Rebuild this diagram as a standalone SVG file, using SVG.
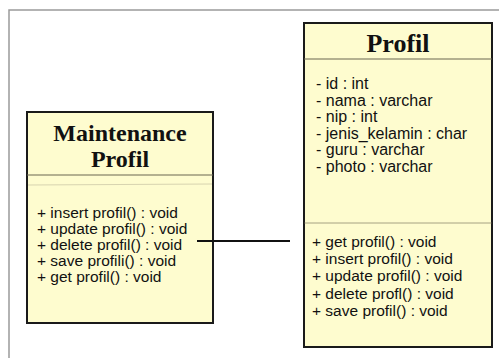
<svg xmlns="http://www.w3.org/2000/svg" width="499" height="358" viewBox="0 0 499 358">
<style>
.box{fill:#fefccf;stroke:#1a1a1a;stroke-width:2}
.div{stroke:#6b6650;stroke-width:1}
.faint{stroke:#d8d4b0;stroke-width:1}
.title{font-family:"Liberation Serif",serif;font-weight:bold;fill:#111;text-anchor:middle}
.t{font-family:"Liberation Sans",Arial,sans-serif;font-size:15.5px;fill:#111}
.a{font-family:"Liberation Sans",Arial,sans-serif;font-size:16px;fill:#111}
.frame{stroke:#9a9a9a;stroke-width:1.5;fill:none}
.conn{stroke:#111;stroke-width:2;fill:none}
</style>
<rect width="499" height="358" fill="#ffffff"/>
<path class="frame" d="M9,358 V10 H499"/>
<g id="maintenance-profil">
<rect class="box" x="27" y="112" width="186" height="211"/>
<text class="title" x="120" y="141" font-size="24">Maintenance</text>
<text class="title" x="120" y="167" font-size="24">Profil</text>
<line class="div" x1="27" y1="175" x2="213" y2="175"/>
<line class="faint" x1="28" y1="185" x2="212" y2="184"/>
<text class="t" x="37" y="218">+ insert profil() : void</text>
<text class="t" x="37" y="234">+ update profil() : void</text>
<text class="t" x="37" y="250">+ delete profil() : void</text>
<text class="t" x="37" y="266">+ save profili() : void</text>
<text class="t" x="37" y="282">+ get profil() : void</text>
</g>
<g id="profil">
<rect class="box" x="304" y="23" width="188" height="324"/>
<text class="title" x="398" y="52" font-size="26">Profil</text>
<line class="div" x1="304" y1="59" x2="492" y2="59"/>
<text class="a" x="316" y="89">- id : int</text>
<text class="a" x="316" y="105.5">- nama : varchar</text>
<text class="a" x="316" y="122">- nip : int</text>
<text class="a" x="316" y="138.5">- jenis_kelamin : char</text>
<text class="a" x="316" y="155">- guru : varchar</text>
<text class="a" x="316" y="171.5">- photo : varchar</text>
<line class="div" x1="304" y1="223" x2="492" y2="223" stroke-opacity="0.6"/>
<text class="t" x="312" y="247">+ get profil() : void</text>
<text class="t" x="312" y="264">+ insert profil() : void</text>
<text class="t" x="312" y="281">+ update profil() : void</text>
<text class="t" x="312" y="299">+ delete profl() : void</text>
<text class="t" x="312" y="316">+ save profil() : void</text>
</g>
<g id="connectors">
<line class="conn" x1="197" y1="241" x2="290" y2="241"/>
</g>
</svg>
